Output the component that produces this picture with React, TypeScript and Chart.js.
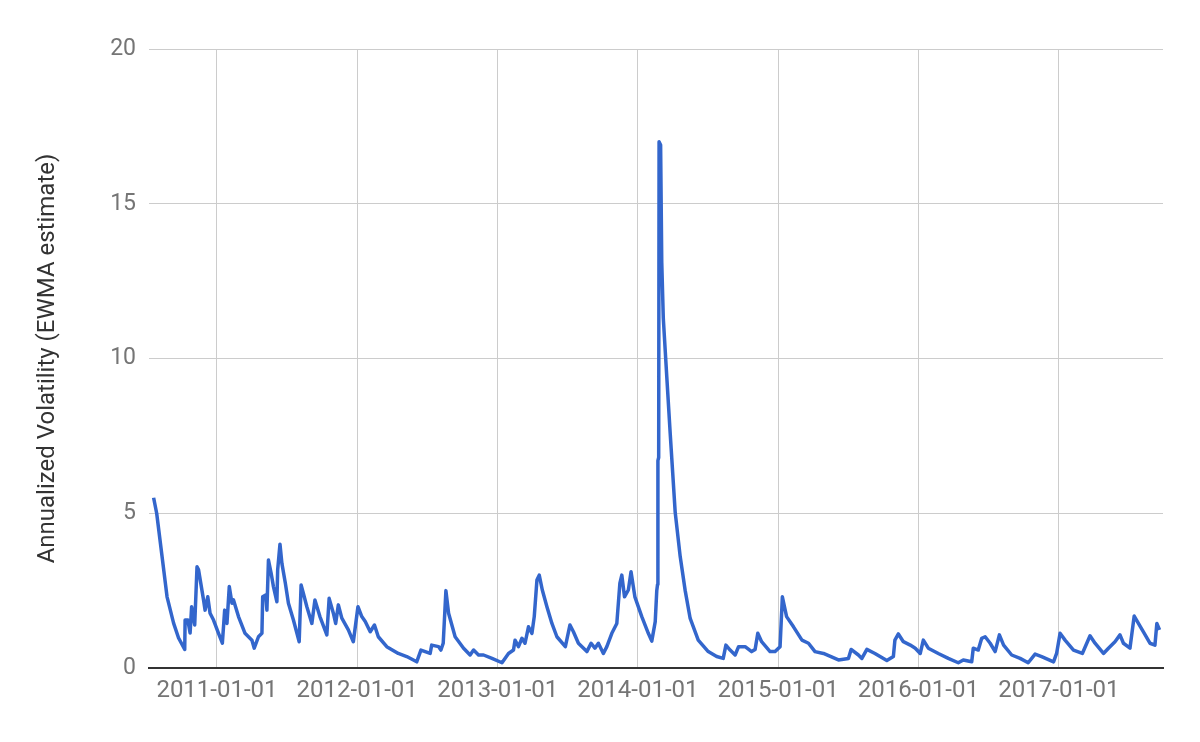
import React, { useEffect, useRef } from "react";
import { Chart, registerables } from "chart.js";

Chart.register(...registerables);

const dates: string[] = [
  "2010-07-20", "2010-07-28", "2010-08-11", "2010-08-24", "2010-09-10", "2010-09-23", "2010-10-09", "2010-10-10",
  "2010-10-17", "2010-10-23", "2010-10-27", "2010-11-04", "2010-11-10", "2010-11-14", "2010-11-27", "2010-12-01",
  "2010-12-08", "2010-12-14", "2010-12-23", "2011-01-05", "2011-01-15", "2011-01-21", "2011-01-27", "2011-02-02",
  "2011-02-09", "2011-02-13", "2011-02-26", "2011-03-15", "2011-04-02", "2011-04-08", "2011-04-19", "2011-04-28",
  "2011-04-30", "2011-05-08", "2011-05-11", "2011-05-15", "2011-05-22", "2011-05-28", "2011-06-06", "2011-06-08",
  "2011-06-14", "2011-06-19", "2011-06-28", "2011-07-06", "2011-07-19", "2011-08-03", "2011-08-08", "2011-08-14",
  "2011-08-23", "2011-09-05", "2011-09-13", "2011-09-26", "2011-10-14", "2011-10-20", "2011-10-31", "2011-11-06",
  "2011-11-13", "2011-11-22", "2011-12-09", "2011-12-22", "2012-01-03", "2012-01-13", "2012-01-22", "2012-02-04",
  "2012-02-15", "2012-02-25", "2012-03-18", "2012-04-17", "2012-05-09", "2012-06-04", "2012-06-15", "2012-07-09",
  "2012-07-13", "2012-07-31", "2012-08-06", "2012-08-12", "2012-08-19", "2012-08-26", "2012-09-12", "2012-10-04",
  "2012-10-21", "2012-10-30", "2012-11-12", "2012-11-25", "2012-12-17", "2013-01-12", "2013-01-29", "2013-02-11",
  "2013-02-15", "2013-02-24", "2013-03-05", "2013-03-13", "2013-03-22", "2013-03-31", "2013-04-06", "2013-04-13",
  "2013-04-19", "2013-04-27", "2013-05-09", "2013-05-22", "2013-06-04", "2013-06-26", "2013-07-08", "2013-07-17",
  "2013-07-30", "2013-08-21", "2013-09-01", "2013-09-11", "2013-09-20", "2013-10-03", "2013-10-12", "2013-10-25",
  "2013-11-07", "2013-11-15", "2013-11-20", "2013-11-27", "2013-12-07", "2013-12-14", "2013-12-24", "2014-01-11",
  "2014-01-28", "2014-02-06", "2014-02-15", "2014-02-19", "2014-02-21", "2014-02-22", "2014-02-24", "2014-02-25",
  "2014-03-01", "2014-03-04", "2014-03-08", "2014-03-17", "2014-03-26", "2014-04-08", "2014-04-21", "2014-05-04",
  "2014-05-17", "2014-06-07", "2014-07-03", "2014-07-25", "2014-08-11", "2014-08-18", "2014-08-29", "2014-09-11",
  "2014-09-20", "2014-10-07", "2014-10-24", "2014-11-02", "2014-11-09", "2014-11-19", "2014-12-11", "2014-12-24",
  "2015-01-06", "2015-01-12", "2015-01-23", "2015-02-10", "2015-03-04", "2015-03-21", "2015-04-07", "2015-04-29",
  "2015-06-07", "2015-07-03", "2015-07-10", "2015-07-29", "2015-08-07", "2015-08-20", "2015-09-10", "2015-10-11",
  "2015-10-28", "2015-11-01", "2015-11-10", "2015-11-23", "2015-12-11", "2015-12-24", "2016-01-06", "2016-01-14",
  "2016-01-27", "2016-02-22", "2016-03-19", "2016-04-14", "2016-04-27", "2016-05-19", "2016-05-23", "2016-06-05",
  "2016-06-14", "2016-06-23", "2016-07-06", "2016-07-19", "2016-07-30", "2016-08-10", "2016-08-31", "2016-09-22",
  "2016-10-13", "2016-10-31", "2016-11-17", "2016-12-18", "2016-12-26", "2017-01-04", "2017-01-17", "2017-02-08",
  "2017-03-03", "2017-03-23", "2017-04-05", "2017-04-27", "2017-05-10", "2017-05-27", "2017-06-09", "2017-06-18",
  "2017-07-05", "2017-07-16", "2017-07-27", "2017-08-09", "2017-08-26", "2017-09-08", "2017-09-13", "2017-09-20",
];

const values: number[] = [
  5.5, 5.0, 3.6, 2.3, 1.45, 0.97, 0.6, 1.55,
  1.55, 1.13, 1.98, 1.39, 3.27, 3.17, 2.2, 1.87,
  2.3, 1.77, 1.55, 1.12, 0.8, 1.87, 1.44, 2.63,
  2.09, 2.2, 1.66, 1.12, 0.9, 0.64, 1.01, 1.12,
  2.3, 2.36, 1.87, 3.49, 3.06, 2.63, 2.14, 3.17,
  4.0, 3.38, 2.74, 2.09, 1.55, 0.85, 2.68, 2.41,
  1.98, 1.44, 2.2, 1.66, 1.07, 2.25, 1.77, 1.44,
  2.04, 1.61, 1.23, 0.85, 1.98, 1.66, 1.5, 1.17,
  1.39, 1.01, 0.69, 0.47, 0.37, 0.2, 0.58, 0.47,
  0.74, 0.69, 0.58, 0.8, 2.5, 1.77, 1.01, 0.64,
  0.42, 0.58, 0.42, 0.42, 0.31, 0.17, 0.47, 0.58,
  0.9, 0.69, 0.96, 0.8, 1.33, 1.12, 1.66, 2.84,
  3.0, 2.52, 1.98, 1.44, 1.01, 0.69, 1.39, 1.17,
  0.8, 0.53, 0.8, 0.64, 0.8, 0.47, 0.69, 1.12,
  1.44, 2.74, 3.0, 2.3, 2.52, 3.11, 2.3, 1.66,
  1.12, 0.87, 1.5, 2.5, 2.7, 6.7, 6.8, 17.0,
  16.9, 13.1, 11.3, 9.42, 7.57, 5.03, 3.6, 2.5,
  1.6, 0.9, 0.53, 0.37, 0.31, 0.74, 0.58, 0.42,
  0.69, 0.69, 0.53, 0.6, 1.12, 0.85, 0.53, 0.53,
  0.69, 2.3, 1.66, 1.33, 0.9, 0.8, 0.53, 0.47,
  0.26, 0.31, 0.6, 0.42, 0.31, 0.6, 0.47, 0.24,
  0.37, 0.9, 1.1, 0.85, 0.74, 0.64, 0.47, 0.9,
  0.64, 0.47, 0.31, 0.17, 0.26, 0.2, 0.64, 0.58,
  0.96, 1.01, 0.8, 0.53, 1.07, 0.74, 0.42, 0.31,
  0.17, 0.45, 0.37, 0.2, 0.47, 1.12, 0.9, 0.58,
  0.47, 1.04, 0.8, 0.47, 0.64, 0.85, 1.07, 0.8,
  0.64, 1.68, 1.44, 1.17, 0.8, 0.74, 1.44, 1.23,
];

const xTickLabels: string[] = [
  "2011-01-01", "2012-01-01", "2013-01-01", "2014-01-01", "2015-01-01", "2016-01-01", "2017-01-01",
];
const xRange: string[] = ["2010-07-08", "2017-09-29"];
const yTicks: number[] = [0, 5, 10, 15, 20];
const yTitle = "Annualized Volatility (EWMA estimate)";

function dayNum(s: string): number {
  const [y, m, d] = s.split("-").map(Number);
  return (Date.UTC(y, m - 1, d) - Date.UTC(2011, 0, 1)) / 86400000;
}

export default function App() {
  const ref = useRef<HTMLCanvasElement | null>(null);

  useEffect(() => {
    document.body.style.margin = "0";
    const canvas = ref.current;
    if (!canvas) return;
    const points = dates.map((d, i) => ({ x: dayNum(d), y: values[i] }));
    const tickValues = xTickLabels.map(dayNum);
    const chart = new Chart(canvas, {
      type: "line",
      data: {
        datasets: [
          {
            data: points,
            borderColor: "#3366cc",
            borderWidth: 3.5,
            pointRadius: 0,
            tension: 0,
            fill: false,
            borderJoinStyle: "round",
          },
        ],
      },
      options: {
        animation: false,
        responsive: false,
        devicePixelRatio: 1,
        layout: { padding: { top: 49, right: 37, left: 0, bottom: 0 } },
        plugins: { legend: { display: false }, tooltip: { enabled: false } },
        scales: {
          x: {
            type: "linear",
            min: dayNum(xRange[0]),
            max: dayNum(xRange[1]),
            afterBuildTicks: (scale: any) => {
              scale.ticks = tickValues.map((v) => ({ value: v }));
            },
            afterFit: (scale: any) => {
              scale.height = 74;
            },
            ticks: {
              autoSkip: false,
              maxRotation: 0,
              minRotation: 0,
              padding: 9,
              color: "#757575",
              font: { family: "Roboto", size: 24 },
              callback: (value: any) => {
                const idx = tickValues.indexOf(Number(value));
                return idx >= 0 ? xTickLabels[idx] : "";
              },
            },
            grid: { color: "#cccccc", lineWidth: 1, drawTicks: false },
            border: { display: true, color: "#333333", width: 2 },
          },
          y: {
            min: 0,
            max: 20,
            afterBuildTicks: (scale: any) => {
              scale.ticks = yTicks.map((v) => ({ value: v }));
            },
            afterFit: (scale: any) => {
              scale.width = 149;
            },
            ticks: {
              padding: 13,
              color: "#757575",
              font: { family: "Roboto", size: 23 },
            },
            grid: {
              color: (ctx: any) => (ctx.tick && ctx.tick.value === 0 ? "#333333" : "#cccccc"),
              lineWidth: (ctx: any) => (ctx.tick && ctx.tick.value === 0 ? 2 : 1),
              drawTicks: false,
            },
            border: { display: false },
            title: {
              display: true,
              text: yTitle,
              color: "#333333",
              font: { family: "Roboto", size: 24 },
              padding: { top: 34, bottom: 0 },
            },
          },
        },
      },
    });
    return () => chart.destroy();
  }, []);

  return (
    <div style={{ width: 1200, height: 742 }}>
      <canvas ref={ref} width={1200} height={742} style={{ display: "block" }} />
    </div>
  );
}
